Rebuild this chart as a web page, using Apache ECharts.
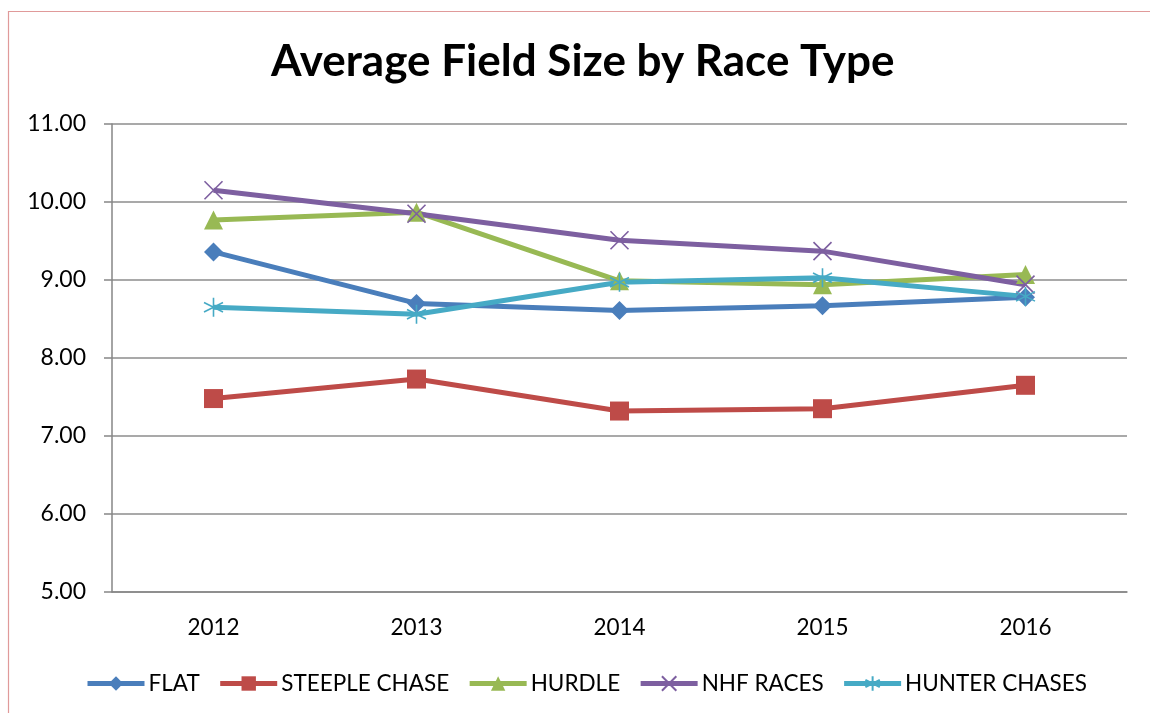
<!DOCTYPE html>
<html><head><meta charset="utf-8">
<script src="https://cdn.jsdelivr.net/npm/echarts@6/dist/echarts.min.js"></script>
<style>html,body{margin:0;padding:0;background:#fff}#c{width:1150px;height:713px}</style>
</head><body><div id="c"></div>
<script>
const years = ['2012','2013','2014','2015','2016'];
const flat = [9.36, 8.70, 8.61, 8.67, 8.78];
const steeple = [7.48, 7.73, 7.32, 7.35, 7.65];
const hurdle = [9.77, 9.87, 8.99, 8.94, 9.07];
const nhf = [10.15, 9.85, 9.51, 9.37, 8.94];
const hunter = [8.65, 8.56, 8.97, 9.03, 8.79];

const chart = echarts.init(document.getElementById('c'));
const font = 'Lato, "Open Sans", sans-serif';
function s(name, data, color, symbol, size, stroke) {
  return {
    name, type: 'line', data, symbol, symbolSize: size,
    lineStyle: {color, width: 5},
    itemStyle: stroke ? {color, borderColor: color, borderWidth: 1.6} : {color},
    emphasis: {disabled: true}
  };
}
chart.setOption({
  animation: false,
  title: {text: 'Average Field Size by Race Type', left: 266, top: 35,
    textStyle: {fontFamily: font, fontWeight: 'bold', fontSize: 44, color: '#000'}},
  graphic: [{type: 'rect', shape: {x: 8.5, y: 11.5, width: 1200, height: 800},
    style: {fill: 'none', stroke: '#e09a9a', lineWidth: 1.2}}],
  grid: {left: 112, right: 23, top: 124, bottom: 121},
  legend: {top: 667, left: 80, itemWidth: 57, itemHeight: 18, itemGap: 18,
    lineStyle: {width: 5},
    textStyle: {fontFamily: font, fontSize: 22.5, color: '#000', padding: [0, 0, 0, -1]},
    data: ['FLAT','STEEPLE CHASE','HURDLE','NHF RACES','HUNTER CHASES']},
  xAxis: {type: 'category', data: years, boundaryGap: true,
    axisLine: {lineStyle: {color: '#868686', width: 1.5}},
    axisTick: {length: 8, lineStyle: {color: '#868686', width: 1.5}},
    axisLabel: {fontFamily: font, fontSize: 22.5, color: '#000', margin: 24}},
  yAxis: {type: 'value', min: 5, max: 11, interval: 1,
    axisLine: {show: true, lineStyle: {color: '#868686', width: 1.5}},
    axisTick: {show: true, length: 8, lineStyle: {color: '#868686', width: 1.5}},
    splitLine: {lineStyle: {color: '#8c8c8c', width: 1.5}},
    axisLabel: {fontFamily: font, fontSize: 23, color: '#000', margin: 26,
      formatter: v => v.toFixed(2)}},
  series: [
    s('FLAT', flat, '#4A7EBB', 'diamond', 19),
    s('STEEPLE CHASE', steeple, '#BE4B48', 'rect', 19),
    s('HURDLE', hurdle, '#98B954', 'triangle', 19),
    s('NHF RACES', nhf, '#7D5FA0', 'path://M0,0L10,10M10,0L0,10', 18, true),
    s('HUNTER CHASES', hunter, '#46AAC5', 'path://M5,0L5,10M0.7,2.5L9.3,7.5M9.3,2.5L0.7,7.5', 19, true)
  ]
});
</script></body></html>
